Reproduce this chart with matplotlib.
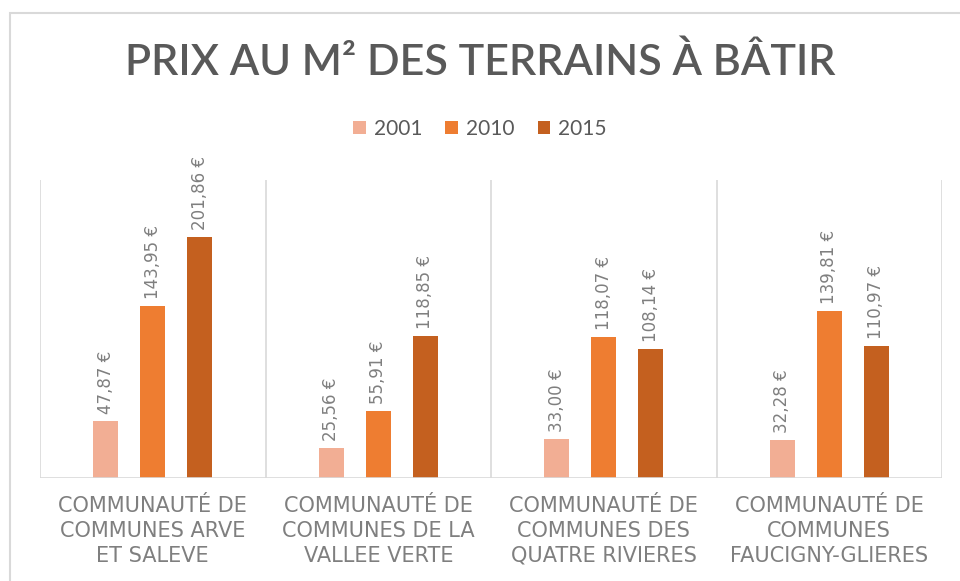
import numpy as np
import matplotlib.pyplot as plt
from matplotlib.patches import Rectangle

# ──────────────────────────────────────────────
# Data
# ──────────────────────────────────────────────
categories = [
    "COMMUNAUTÉ DE\nCOMMUNES ARVE\nET SALEVE",
    "COMMUNAUTÉ DE\nCOMMUNES DE LA\nVALLEE VERTE",
    "COMMUNAUTÉ DE\nCOMMUNES DES\nQUATRE RIVIERES",
    "COMMUNAUTÉ DE\nCOMMUNES\nFAUCIGNY-GLIERES",
]
years = ["2001", "2010", "2015"]
prix_2001 = [47.87, 25.56, 33.00, 32.28]
prix_2010 = [143.95, 55.91, 118.07, 139.81]
prix_2015 = [201.86, 118.85, 108.14, 110.97]

COLORS = ["#F2AE94", "#EE7D31", "#C4601F"]
GRAY_TITLE = "#595959"
GRAY_TEXT = "#7F7F7F"
GRAY_LINE = "#D9D9D9"

plt.rcParams["font.family"] = ["Lato", "DejaVu Sans"]

fig = plt.figure(figsize=(9.6, 5.81), dpi=100)
ax = fig.add_axes([40 / 960, 1 - 478 / 581, (942 - 40) / 960, (478 - 180) / 581])

# outer chart border
fig.patches.append(Rectangle((10 / 960, -0.05), 1.0, 1 - 13 / 581 + 0.05,
                             transform=fig.transFigure, fill=False,
                             edgecolor=GRAY_LINE, lw=1.5))

x = np.arange(len(categories))
width = 0.11
offset = 0.208

for i, (vals, year) in enumerate(zip([prix_2001, prix_2010, prix_2015], years)):
    bars = ax.bar(x + (i - 1) * offset, vals, width, color=COLORS[i], label=year)
    for b, v in zip(bars, vals):
        ax.annotate(f"{v:.2f}".replace(".", ",") + " €",
                    (b.get_x() + b.get_width() / 2, b.get_height()),
                    xytext=(0, 5), textcoords="offset points",
                    rotation=90, ha="center", va="bottom",
                    fontsize=12, color=GRAY_TEXT, family="DejaVu Sans")

# separators & baseline
for xb in np.arange(-0.5, len(categories), 1.0):
    ax.axvline(xb, color=GRAY_LINE, lw=1.2)
ax.axhline(0, color=GRAY_LINE, lw=1.2)

ax.set_xlim(-0.5, len(categories) - 0.5)
ax.set_ylim(0, 250)
ax.set_yticks([])
ax.set_xticks(x)
ax.set_xticklabels(categories, fontsize=15, color=GRAY_TEXT, linespacing=1.3,
                   family="DejaVu Sans")
ax.tick_params(axis="x", length=0, pad=13)
for s in ax.spines.values():
    s.set_visible(False)

fig.text(0.5, 1 - 62 / 581, "PRIX AU M² DES TERRAINS À BÂTIR",
         ha="center", va="center", fontsize=31, fontweight="semibold",
         color=GRAY_TITLE)

fig.legend(loc="center", bbox_to_anchor=(0.5, 1 - 129 / 581), ncol=3,
           frameon=False, fontsize=15, handlelength=0.6, handleheight=0.6,
           handletextpad=0.4, columnspacing=1.1, labelcolor=GRAY_TITLE)

fig.savefig("out.png", dpi=100)
